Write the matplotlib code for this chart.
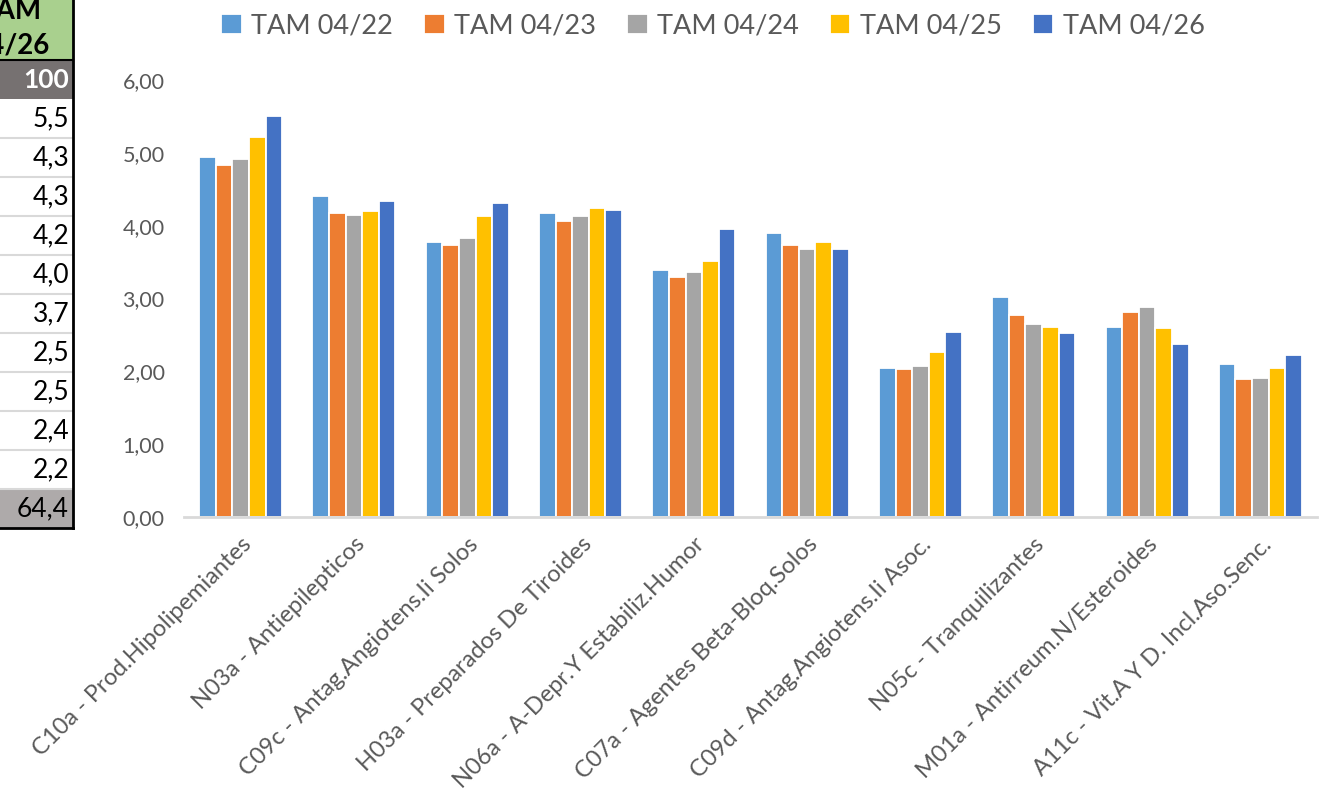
import numpy as np
import matplotlib
matplotlib.use("Agg")
import matplotlib.pyplot as plt
from matplotlib.patches import Rectangle
from matplotlib.lines import Line2D

plt.rcParams['font.family'] = ['Lato', 'DejaVu Sans']

# datos
categorias = [
    "C10a - Prod.Hipolipemiantes",
    "N03a - Antiepilepticos",
    "C09c - Antag.Angiotens.Ii Solos",
    "H03a - Preparados De Tiroides",
    "N06a - A-Depr.Y Estabiliz.Humor",
    "C07a - Agentes Beta-Bloq.Solos",
    "C09d - Antag.Angiotens.Ii Asoc.",
    "N05c - Tranquilizantes",
    "M01a - Antirreum.N/Esteroides",
    "A11c - Vit.A Y D. Incl.Aso.Senc.",
]
series = ["TAM 04/22", "TAM 04/23", "TAM 04/24", "TAM 04/25", "TAM 04/26"]
tam_04_22 = [4.94, 4.41, 3.78, 4.17, 3.39, 3.90, 2.05, 3.02, 2.61, 2.10]
tam_04_23 = [4.83, 4.18, 3.74, 4.06, 3.29, 3.74, 2.03, 2.77, 2.81, 1.89]
tam_04_24 = [4.91, 4.15, 3.83, 4.13, 3.36, 3.68, 2.07, 2.65, 2.88, 1.91]
tam_04_25 = [5.22, 4.20, 4.13, 4.24, 3.52, 3.78, 2.26, 2.61, 2.60, 2.05]
tam_04_26 = [5.51, 4.34, 4.31, 4.22, 3.95, 3.68, 2.54, 2.53, 2.37, 2.23]
colores = ["#5B9BD5", "#ED7D31", "#A5A5A5", "#FFC000", "#4472C4"]

# tabla recortada a la izquierda
tabla_cabecera = "TAM\n04/26"
tabla_total = "100"
tabla_valores = ["5,5", "4,3", "4,3", "4,2", "4,0", "3,7", "2,5", "2,5", "2,4", "2,2"]
tabla_suma = "64,4"

W, H = 1327, 798
fig = plt.figure(figsize=(W / 100, H / 100), dpi=100)

def fx(x):
    return x / W

def fy(y):
    return 1 - y / H

ax = fig.add_axes([fx(184), fy(517), fx(1317) - fx(184), fy(80) - fy(517)])

datos = [tam_04_22, tam_04_23, tam_04_24, tam_04_25, tam_04_26]
x = np.arange(len(categorias))
w = 0.1466
for i, (nombre, vals) in enumerate(zip(series, datos)):
    ax.bar(x + (i - 2) * w, vals, width=w, color=colores[i], edgecolor="white",
           linewidth=1.3, label=nombre, zorder=2)

ax.set_xlim(-0.5, len(categorias) - 0.5)
ax.set_ylim(0, 6)
ax.set_yticks(np.arange(0, 7, 1))
ax.set_yticklabels([f"{v:.2f}".replace(".", ",") for v in np.arange(0, 7, 1)])
ax.set_xticks(x)
ax.set_xticklabels(categorias, rotation=45, ha="right", rotation_mode="anchor")
ax.tick_params(axis="both", length=0, colors="#595959")
ax.tick_params(axis="y", labelsize=15.5, pad=14)
ax.tick_params(axis="x", labelsize=17, pad=12)
for s in ["top", "right", "left"]:
    ax.spines[s].set_visible(False)
ax.spines["bottom"].set_color("#D9D9D9")
ax.spines["bottom"].set_linewidth(2)
ax.spines["bottom"].set_zorder(3)

leg = fig.legend(loc="center", bbox_to_anchor=(fx(713), fy(26)), ncol=5, frameon=False,
                 fontsize=19.5, handlelength=0.75, handleheight=0.75, handletextpad=0.35,
                 columnspacing=1.15, labelcolor="#595959")

# tabla
filas_y = [60 + 39 * k for k in range(13)]
fig.add_artist(Rectangle((fx(0), fy(60)), fx(73), fy(0) - fy(60), transform=fig.transFigure,
                         facecolor="#A9D08E", edgecolor="none"))
fig.text(fx(11), fy(28), tabla_cabecera, ha="center", va="center", fontsize=20,
         fontweight="bold", color="black", linespacing=1.4)
fig.add_artist(Rectangle((fx(0), fy(filas_y[1])), fx(73), fy(filas_y[0]) - fy(filas_y[1]),
                         transform=fig.transFigure, facecolor="#767171", edgecolor="none"))
fig.text(fx(69), fy((filas_y[0] + filas_y[1]) / 2), tabla_total, ha="right", va="center",
         fontsize=19, fontweight="bold", color="white")
for k, v in enumerate(tabla_valores):
    yc = (filas_y[k + 1] + filas_y[k + 2]) / 2
    fig.text(fx(69), fy(yc), v, ha="right", va="center", fontsize=19, color="black")
    fig.add_artist(Line2D([0, fx(73)], [fy(filas_y[k + 2])] * 2, transform=fig.transFigure,
                          color="#D9D9D9", linewidth=1.5))
fig.add_artist(Rectangle((fx(0), fy(filas_y[12])), fx(73), fy(filas_y[11]) - fy(filas_y[12]),
                         transform=fig.transFigure, facecolor="#AEAAAA", edgecolor="none"))
fig.text(fx(69), fy((filas_y[11] + filas_y[12]) / 2), tabla_suma, ha="right", va="center",
         fontsize=19, color="black")
fig.add_artist(Line2D([fx(73), fx(73)], [fy(0), fy(filas_y[12])], transform=fig.transFigure,
                      color="black", linewidth=2))
fig.add_artist(Line2D([0, fx(73)], [fy(filas_y[12])] * 2, transform=fig.transFigure,
                      color="black", linewidth=2))
fig.add_artist(Line2D([0, fx(73)], [fy(60)] * 2, transform=fig.transFigure,
                      color="black", linewidth=1.5))

fig.savefig("out.png", dpi=100)
